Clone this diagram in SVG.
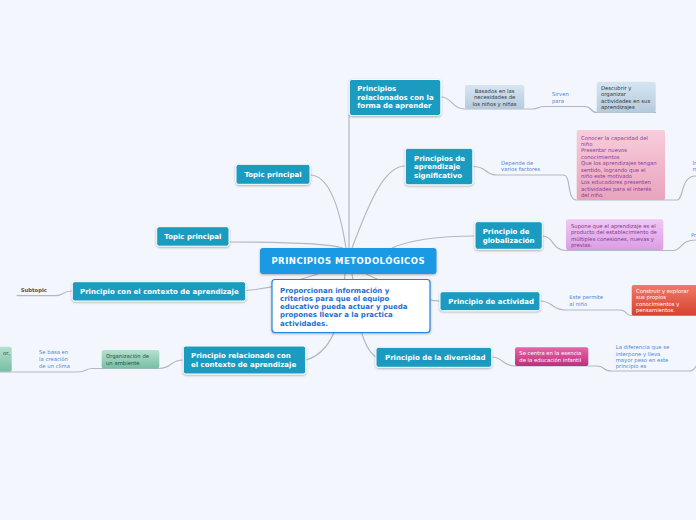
<svg xmlns="http://www.w3.org/2000/svg" width="696" height="520" viewBox="0 0 696 520">
<defs>
<style>
.bg{fill:#f3f6fd}
.c{fill:none;stroke:#b3b7bf;stroke-width:1.2}
.tp{fill:#1a9bc0;stroke:#ffffff;stroke-width:1;filter:url(#sh)}
.tt{font-family:"DejaVu Sans",Verdana,sans-serif;font-weight:bold;font-size:7px;fill:#ffffff}
.st{font-family:"DejaVu Sans",Verdana,sans-serif;font-size:5.3px}
.lb{font-family:"DejaVu Sans",Verdana,sans-serif;font-size:5.3px;fill:#4f86d0}
.nt{font-family:"DejaVu Sans",Verdana,sans-serif;font-weight:bold;font-size:7px;fill:#1a6fd6}
</style>
<filter id="sh" x="-10%" y="-20%" width="120%" height="150%"><feDropShadow dx="0" dy="1" stdDeviation="0.8" flood-color="#000" flood-opacity="0.3"/></filter>
<linearGradient id="gBlue" x1="0" y1="0" x2="0" y2="1"><stop offset="0" stop-color="#d6e5f2"/><stop offset="1" stop-color="#b4cbdd"/></linearGradient>
<linearGradient id="gPink" x1="0" y1="0" x2="0" y2="1"><stop offset="0" stop-color="#f8cddb"/><stop offset="1" stop-color="#e8a3bd"/></linearGradient>
<linearGradient id="gPurple" x1="0" y1="0" x2="0" y2="1"><stop offset="0" stop-color="#f0c8f4"/><stop offset="1" stop-color="#db9de4"/></linearGradient>
<linearGradient id="gRed" x1="0" y1="0" x2="0" y2="1"><stop offset="0" stop-color="#f27a68"/><stop offset="1" stop-color="#d6432f"/></linearGradient>
<linearGradient id="gMag" x1="0" y1="0" x2="0" y2="1"><stop offset="0" stop-color="#e665a8"/><stop offset="1" stop-color="#be2f7e"/></linearGradient>
<linearGradient id="gGreen" x1="0" y1="0" x2="0" y2="1"><stop offset="0" stop-color="#b4e2cf"/><stop offset="1" stop-color="#76bea4"/></linearGradient>
</defs>
<rect class="bg" x="0" y="0" width="696" height="520"/>

<g id="connectors">
<path class="c" d="M349,115 L349,248"/>
<path class="c" d="M310,175 C330,175 340,210 346,248"/>
<path class="c" d="M229,242 C290,242 330,244 343,248"/>
<path class="c" d="M405,166 C385,166 370,200 352,248"/>
<path class="c" d="M475,236 C440,236 410,240 392,248"/>
<path class="c" d="M245.7,290.5 C270,289 295,281 318,274"/>
<path class="c" d="M366,274 C390,285 420,301 440,301"/>
<path class="c" d="M352,274 C356,300 358,345 376,357"/>
<path class="c" d="M345,274 C343,300 340,350 306,360"/>
<path class="c" d="M441,97 C452,97 452,109 465,109 L533,109 C538,109 538,106.5 545,106.5 L585,106.5 C592,106.5 590,112.5 597,112.5 L656,112.5"/>
<path class="c" d="M473,166.5 C488,166.5 484,175 497,175 L563,175 C572,175 566,200 577,200 L677,200 C684,200 680,176 696,176"/>
<path class="c" d="M542,236 C554,236 552,250.5 566,250.5 L673,250.5 C682,250.5 680,240 696,240"/>
<path class="c" d="M540,301 C553,301 552,310 565,310 L620,310 C628,310 624,315.5 632,315.5 L696,315.5"/>
<path class="c" d="M491.7,357 C503,357 502,366 515,366 L597,366 C605,366 602,371 612,371 L690,371 C694,371 695,368 696,366"/>
<path class="c" d="M183.3,360 C170,360 172,368.5 159,368.5 L92,368.5 C86,368.5 86,372 78,372 L0,372"/>
<path class="c" d="M72.3,291 C62,291 64,295.7 56,295.7 L16.7,295.7"/>
</g>

<g id="central">
<rect x="260" y="248" width="176.5" height="26" rx="3" fill="#1f99e3" filter="url(#sh)"/>
<text x="348.3" y="264.2" text-anchor="middle" font-family="DejaVu Sans,Verdana,sans-serif" font-weight="bold" font-size="8.5px" letter-spacing="0.5" fill="#ffffff">PRINCIPIOS METODOLÓGICOS</text>
</g>

<g id="note">
<rect x="272" y="279.5" width="158" height="53" rx="3" fill="#ffffff" stroke="#1e86e0" stroke-width="1.2" filter="url(#sh)"/>
<text class="nt" x="280" y="292.5">Proporcionan información y</text>
<text class="nt" x="280" y="300.8">criterios para que el equipo</text>
<text class="nt" x="280" y="309.1">educativo pueda actuar y pueda</text>
<text class="nt" x="280" y="317.4">propones llevar a la practica</text>
<text class="nt" x="280" y="325.7">actividades.</text>
</g>

<g id="t-forma">
<rect class="tp" x="349.3" y="79.5" width="91.5" height="36" rx="2.5"/>
<text class="tt" x="357.3" y="91">Principios</text>
<text class="tt" x="357.3" y="99.5">relacionados con la</text>
<text class="tt" x="357.3" y="108">forma de aprender</text>
</g>

<g id="t-significativo">
<rect class="tp" x="405.3" y="148.3" width="67.5" height="36.5" rx="2.5"/>
<text class="tt" x="414" y="161">Principios de</text>
<text class="tt" x="414" y="169.3">aprendizaje</text>
<text class="tt" x="414" y="177.8">significativo</text>
</g>

<g id="t-globalizacion">
<rect class="tp" x="475" y="221.7" width="67.3" height="27.6" rx="2.5"/>
<text class="tt" x="482.7" y="234">Principio de</text>
<text class="tt" x="482.7" y="243">globalización</text>
</g>

<g id="t-actividad">
<rect class="tp" x="440" y="291.7" width="100" height="19" rx="2.5"/>
<text class="tt" x="448.3" y="304.2">Principio de actividad</text>
</g>

<g id="t-diversidad">
<rect class="tp" x="376" y="347.3" width="115.7" height="20" rx="2.5"/>
<text class="tt" x="385" y="360.2">Principio de la diversidad</text>
</g>

<g id="t-contexto-aprendizaje">
<rect class="tp" x="183.3" y="346" width="122.4" height="28" rx="2.5"/>
<text class="tt" x="191" y="358.2">Principio relacionado con</text>
<text class="tt" x="191" y="366.6">el contexto de aprendizaje</text>
</g>

<g id="t-con-contexto">
<rect class="tp" x="72.3" y="281.7" width="173.4" height="19.3" rx="2.5"/>
<text class="tt" x="80" y="293.8">Principio con el contexto de aprendizaje</text>
</g>

<g id="t-topic1">
<rect class="tp" x="236" y="164.3" width="74" height="20" rx="2.5"/>
<text class="tt" x="273" y="176.8" text-anchor="middle">Topic principal</text>
</g>

<g id="t-topic2">
<rect class="tp" x="156.7" y="226.7" width="72.3" height="19.5" rx="2.5"/>
<text class="tt" x="192.9" y="239" text-anchor="middle">Topic principal</text>
</g>

<g id="s-basados">
<rect x="465" y="85" width="59.3" height="24" rx="2" fill="url(#gBlue)"/>
<text class="st" fill="#333" text-anchor="middle"><tspan x="494.6" y="93">Basados en las</tspan><tspan x="494.6" y="99.4">necesidades de</tspan><tspan x="494.6" y="105.8">los niños y niñas</tspan></text>
</g>

<g id="l-sirven">
<text class="lb"><tspan x="552" y="96">Sirven</tspan><tspan x="552" y="102.6">para</tspan></text>
</g>

<g id="s-descubrir">
<rect x="596.7" y="81.7" width="59" height="31" rx="2" fill="url(#gBlue)"/>
<text class="st" fill="#333"><tspan x="601" y="89.7">Descubrir y</tspan><tspan x="601" y="96.1">organizar</tspan><tspan x="601" y="102.5">actividades en sus</tspan><tspan x="601" y="108.9">aprendizajes</tspan></text>
</g>

<g id="l-depende">
<text class="lb"><tspan x="501" y="164.5">Depende de</tspan><tspan x="501" y="171">varios factores</tspan></text>
</g>

<g id="s-factores">
<rect x="576.7" y="130" width="88.3" height="70" rx="2" fill="url(#gPink)"/>
<text class="st" fill="#8a3a9c">
<tspan x="581" y="139.5">Conocer la capacidad del</tspan>
<tspan x="581" y="145.9">niño</tspan>
<tspan x="581" y="152.3">Presentar nuevos</tspan>
<tspan x="581" y="158.7">conocimientos</tspan>
<tspan x="581" y="165.1">Que los aprendizajes tengan</tspan>
<tspan x="581" y="171.5">sentido, logrando que el</tspan>
<tspan x="581" y="177.9">niño este motivado</tspan>
<tspan x="581" y="184.3">Los educadores presenten</tspan>
<tspan x="581" y="190.7">actividades para el interés</tspan>
<tspan x="581" y="197.1">del niño.</tspan>
</text>
</g>

<g id="l-in">
<text class="lb"><tspan x="692.5" y="164.5">In</tspan><tspan x="692.5" y="171">m</tspan></text>
</g>

<g id="s-supone">
<rect x="566" y="219.3" width="97.3" height="30.7" rx="2" fill="url(#gPurple)"/>
<text class="st" fill="#7b3a8c">
<tspan x="571" y="227.7">Supone que el aprendizaje es el</tspan>
<tspan x="571" y="234.3">producto del establecimiento de</tspan>
<tspan x="571" y="241">múltiples conesiones, nuevas y</tspan>
<tspan x="571" y="247.4">previas.</tspan>
</text>
</g>

<g id="l-pr">
<text class="lb" x="691" y="237">Pr</text>
</g>

<g id="l-permite">
<text class="lb"><tspan x="569.3" y="299.3">Este permite</tspan><tspan x="569.3" y="306">al niño</tspan></text>
</g>

<g id="s-construir">
<rect x="631.7" y="285" width="70" height="30.5" rx="2" fill="url(#gRed)"/>
<text class="st" fill="#ffffff">
<tspan x="636" y="293">Construir y explorar</tspan>
<tspan x="636" y="299.4">sus propios</tspan>
<tspan x="636" y="305.8">conocimientos y</tspan>
<tspan x="636" y="312.2">pensamientos.</tspan>
</text>
</g>

<g id="s-esencia">
<rect x="515" y="347.3" width="73.3" height="18.7" rx="2" fill="url(#gMag)"/>
<text class="st" fill="#ffffff"><tspan x="519.3" y="355.3">Se centra en la esencia</tspan><tspan x="519.3" y="361.5">de la educación infantil</tspan></text>
</g>

<g id="l-diferencia">
<text class="lb">
<tspan x="615.7" y="349.3">La diferencia que se</tspan>
<tspan x="615.7" y="355.7">interpone y lleva</tspan>
<tspan x="615.7" y="362">mayor peso en este</tspan>
<tspan x="615.7" y="368.3">principio es</tspan>
</text>
</g>

<g id="s-ambiente">
<rect x="101.7" y="350" width="57.6" height="18.5" rx="2" fill="url(#gGreen)"/>
<text class="st" fill="#2b4a42"><tspan x="106" y="357.7">Organización de</tspan><tspan x="106" y="364.6">un ambiente</tspan></text>
</g>

<g id="l-basa">
<text class="lb"><tspan x="39" y="354.3">Se basa en</tspan><tspan x="39" y="361">la creación</tspan><tspan x="39" y="367.8">de un clima</tspan></text>
</g>

<g id="s-left">
<rect x="-50" y="346.7" width="61.7" height="25" rx="2" fill="url(#gGreen)"/>
<text class="st" fill="#2b4a42" x="10" y="355.3" text-anchor="end">or,</text>
</g>

<g id="s-subtopic">
<text x="20.7" y="292.3" font-family="DejaVu Sans,Verdana,sans-serif" font-size="5.3px" font-weight="bold" fill="#555555">Subtopic</text>
</g>
</svg>
